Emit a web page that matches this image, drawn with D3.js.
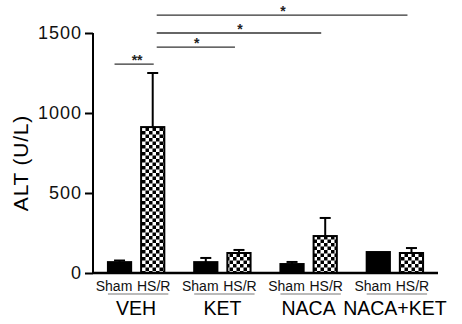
<!DOCTYPE html>
<html>
<head>
<meta charset="utf-8">
<script src="https://cdn.jsdelivr.net/npm/d3@7"></script>
<style>
  html, body { margin: 0; padding: 0; background: #fff; }
  svg { display: block; font-family: "Liberation Sans", Arial, sans-serif; }
</style>
</head>
<body>
<svg id="chart" width="462" height="324"></svg>
<script>
const groups = ['VEH', 'KET', 'NACA', 'NACA+KET'];
const treatments = ['Sham', 'HS/R'];
const shamMeans = [68, 68, 56, 131];
const shamErrors = [10, 26, 13, 0];
const hsrMeans = [912, 125, 231, 125];
const hsrErrors = [338, 19, 113, 31];
const yTicks = [0, 500, 1000, 1500];

const brackets = [
    { from: ['VEH', 'Sham'], to: ['VEH', 'HS/R'], level: 1306, label: '**' },
    { from: ['VEH', 'HS/R'], to: ['KET', 'HS/R'], level: 1412, label: '*' },
    { from: ['VEH', 'HS/R'], to: ['NACA', 'HS/R'], level: 1500, label: '*' },
    { from: ['VEH', 'HS/R'], to: ['NACA+KET', 'HS/R'], level: 1612, label: '*' }
];

const margin = { top: 33, left: 93, bottom: 51, right: 24 };
const width = 462;
const height = 324;
const chartHeight = height - margin.top - margin.bottom;
const chartWidth = width - margin.left - margin.right;

const svg = d3.select('#chart');

const defs = svg.append('defs');
const pattern = defs.append('pattern')
    .attr('id', 'checker')
    .attr('patternUnits', 'userSpaceOnUse')
    .attr('width', 7)
    .attr('height', 7);
pattern.append('rect').attr('width', 7).attr('height', 7).attr('fill', '#fff');
pattern.append('rect').attr('width', 3.5).attr('height', 3.5).attr('fill', '#000');
pattern.append('rect').attr('x', 3.5).attr('y', 3.5).attr('width', 3.5).attr('height', 3.5).attr('fill', '#000');

const data = [];
groups.forEach((g, i) => {
    data.push({ group: g, treatment: 'Sham', mean: shamMeans[i], err: shamErrors[i] });
    data.push({ group: g, treatment: 'HS/R', mean: hsrMeans[i], err: hsrErrors[i] });
});

const x0 = d3.scaleBand()
    .domain(groups)
    .range([0, chartWidth])
    .padding(0);

const x1 = d3.scaleBand()
    .domain(treatments)
    .range([0, x0.bandwidth()])
    .paddingInner(0.3)
    .paddingOuter(0.45);

const y = d3.scaleLinear()
    .domain([0, 1500])
    .range([chartHeight, 0]);

const center = ([g, t]) => x0(g) + x1(t) + x1.bandwidth() / 2;

const root = svg.append('g')
    .attr('transform', `translate(${margin.left},${margin.top})`);

// bars
const bars = root.append('g')
    .selectAll('g')
    .data(data)
    .enter()
    .append('g');

bars.append('line')
    .attr('x1', d => center([d.group, d.treatment]))
    .attr('x2', d => center([d.group, d.treatment]))
    .attr('y1', d => y(d.mean))
    .attr('y2', d => y(d.mean + d.err))
    .attr('stroke', '#000')
    .attr('stroke-width', 2);

bars.append('line')
    .attr('x1', d => center([d.group, d.treatment]) - 5.5)
    .attr('x2', d => center([d.group, d.treatment]) + 5.5)
    .attr('y1', d => y(d.mean + d.err))
    .attr('y2', d => y(d.mean + d.err))
    .attr('stroke', '#000')
    .attr('stroke-width', 2)
    .attr('display', d => d.err > 0 ? null : 'none');

bars.append('rect')
    .attr('x', d => x0(d.group) + x1(d.treatment))
    .attr('y', d => y(d.mean))
    .attr('width', x1.bandwidth())
    .attr('height', d => chartHeight - y(d.mean))
    .attr('fill', d => d.treatment === 'Sham' ? '#000' : 'url(#checker)')
    .attr('stroke', '#000')
    .attr('stroke-width', 2);

// axes
const yAxe = d3.axisLeft(y)
    .tickValues(yTicks)
    .tickSize(8)
    .tickPadding(3)
    .tickFormat(d3.format('d'));

const yAxisG = root.append('g').call(yAxe);
yAxisG.select('.domain')
    .attr('d', `M0,${y(0)}V${y(1500)}`)
    .attr('stroke-width', 2);
yAxisG.selectAll('.tick line').attr('stroke-width', 2);
yAxisG.selectAll('.tick text')
    .attr('font-size', 18)
    .attr('font-family', '"Liberation Sans", Arial, sans-serif')
    .attr('letter-spacing', 1)
    .attr('fill', '#111');

root.append('line')
    .attr('x1', 0)
    .attr('x2', chartWidth)
    .attr('y1', y(0))
    .attr('y2', y(0))
    .attr('stroke', '#000')
    .attr('stroke-width', 2.5);

// treatment labels under each bar
const labels = root.append('g')
    .attr('transform', `translate(0,${chartHeight + 18})`);

labels.selectAll('text.treat')
    .data(data)
    .enter()
    .append('text')
    .attr('class', 'treat')
    .attr('x', d => center([d.group, d.treatment]) + (d.treatment === 'Sham' ? -5.5 : 1))
    .attr('text-anchor', 'middle')
    .attr('font-size', 14)
    .attr('fill', '#111')
    .text(d => d.treatment);

labels.selectAll('line.under')
    .data(groups)
    .enter()
    .append('line')
    .attr('class', 'under')
    .attr('x1', g => x0(g) + x1('Sham'))
    .attr('x2', g => x0(g) + x1('HS/R') + x1.bandwidth() + 4)
    .attr('y1', 3)
    .attr('y2', 3)
    .attr('stroke', '#777')
    .attr('stroke-width', 1.2);

labels.selectAll('text.group')
    .data(groups)
    .enter()
    .append('text')
    .attr('class', 'group')
    .attr('x', g => x0(g) + x0.bandwidth() / 2)
    .attr('y', 24)
    .attr('text-anchor', 'middle')
    .attr('font-size', 19.5)
    .attr('fill', '#000')
    .text(g => g);

// y label
svg.append('text')
    .attr('transform', 'translate(28,163) rotate(-90)')
    .attr('text-anchor', 'middle')
    .attr('font-size', 21)
    .attr('letter-spacing', 0.8)
    .attr('fill', '#000')
    .text('ALT (U/L)');

// significance brackets
const sig = root.append('g')
    .selectAll('g')
    .data(brackets)
    .enter()
    .append('g');

sig.append('line')
    .attr('x1', d => center(d.from) + (d.label === '**' ? -5 : 4))
    .attr('x2', d => center(d.to) + (d.label === '**' ? 1 : -4))
    .attr('y1', d => y(d.level))
    .attr('y2', d => y(d.level))
    .attr('stroke', '#333')
    .attr('stroke-width', 1.3);

sig.append('text')
    .attr('x', d => (center(d.from) + center(d.to)) / 2 + 1)
    .attr('y', d => y(d.level) + 1)
    .attr('text-anchor', 'middle')
    .attr('font-size', 14)
    .attr('font-weight', 'bold')
    .attr('fill', '#222')
    .text(d => d.label);
</script>
</body>
</html>
